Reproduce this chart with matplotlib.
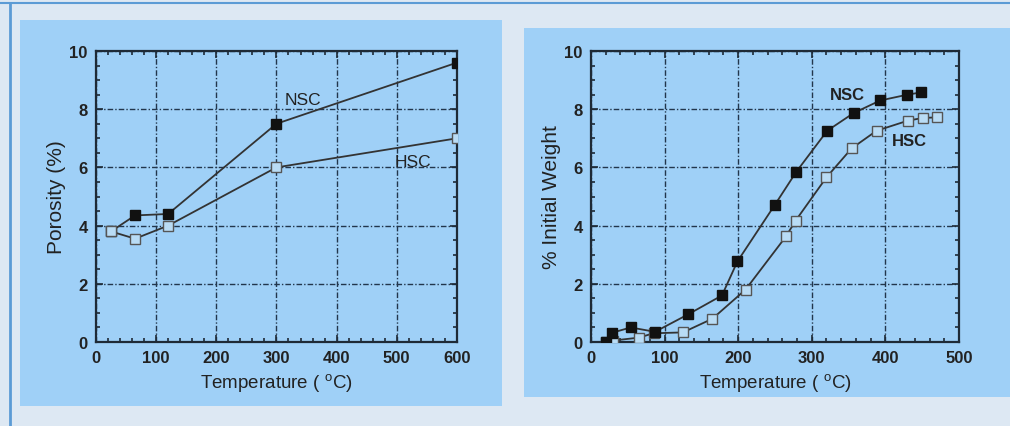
import matplotlib.pyplot as plt
from matplotlib.patches import Rectangle
from matplotlib.lines import Line2D
from matplotlib.ticker import MultipleLocator

# porosity vs temperature (left)
por_t = [25, 65, 120, 300, 600]
por_nsc = [3.8, 4.35, 4.4, 7.5, 9.6]
por_hsc = [3.8, 3.55, 4.0, 6.0, 7.0]

# weight loss vs temperature (right)
wt_t_nsc = [20, 29, 54, 87, 132, 178, 199, 250, 279, 321, 357, 393, 430, 449]
wt_nsc = [0.0, 0.32, 0.5, 0.35, 0.95, 1.6, 2.77, 4.72, 5.85, 7.26, 7.87, 8.3, 8.5, 8.58]
wt_t_hsc = [20, 30, 65, 85, 125, 165, 210, 265, 278, 320, 354, 388, 431, 451, 470]
wt_hsc = [0.0, 0.05, 0.15, 0.3, 0.33, 0.8, 1.8, 3.63, 4.17, 5.66, 6.65, 7.26, 7.61, 7.7, 7.72]

plt.rcParams['font.family'] = ['Liberation Sans', 'DejaVu Sans']

bg = '#dde8f3'
panel = '#9fd0f7'
ink = '#1e2a36'

fig = plt.figure(figsize=(10.1, 4.27), dpi=100, facecolor=bg)

# panels and outer frame (behind the axes)
fig.patches.append(Rectangle((0.0198, 0.0468), 0.477, 0.904, transform=fig.transFigure,
                             facecolor=panel, edgecolor='none', zorder=-2))
fig.patches.append(Rectangle((0.5188, 0.0679), 0.4812, 0.864, transform=fig.transFigure,
                             facecolor=panel, edgecolor='none', zorder=-2))
fig.lines.append(Line2D([0, 1], [0.991, 0.991], transform=fig.transFigure,
                        color='#5b9bd5', lw=1.5, zorder=-1))
fig.lines.append(Line2D([0.0099, 0.0099], [0, 0.991], transform=fig.transFigure,
                        color='#5b9bd5', lw=2, zorder=-1))


def style(ax, xmax, xmaj, xmin):
    ax.set_facecolor('none')
    ax.set_xlim(0, xmax)
    ax.set_ylim(0, 10)
    ax.xaxis.set_major_locator(MultipleLocator(xmaj))
    ax.xaxis.set_minor_locator(MultipleLocator(xmin))
    ax.yaxis.set_major_locator(MultipleLocator(2))
    ax.yaxis.set_minor_locator(MultipleLocator(0.5))
    ax.tick_params(which='both', direction='in', top=True, right=True,
                   colors=ink, labelsize=12, width=1.2)
    ax.tick_params(which='major', length=5, pad=6)
    ax.tick_params(which='minor', length=3)
    for lab in ax.get_xticklabels() + ax.get_yticklabels():
        lab.set_fontweight('bold')
        lab.set_color('#222')
    for s in ax.spines.values():
        s.set_color(ink)
        s.set_linewidth(1.6)
    ax.grid(True, which='major', color='#22364c', lw=1.0,
            linestyle=(0, (4, 1.5, 1, 1.5)))
    ax.set_xlabel('Temperature ( $^{\\mathregular{o}}$C)', fontsize=13.5, color='#222',
                  labelpad=4)


ax1 = fig.add_axes([0.0950, 0.1967, 0.3574, 0.6815])
style(ax1, 600, 100, 20)
ax1.plot(por_t, por_nsc, color='#333', lw=1.3, marker='s', ms=7,
         mfc='#111', mec='#111', zorder=3)
ax1.plot(por_t, por_hsc, color='#333', lw=1.3, marker='s', ms=7,
         mfc='#b9dcf5', mec='#555', zorder=3)
ax1.set_ylabel('Porosity (%)', fontsize=15, color='#222', labelpad=2)
ax1.text(344, 8.35, 'NSC', fontsize=12.5, color='#222', ha='center', va='center')
ax1.text(527, 6.19, 'HSC', fontsize=12.5, color='#222', ha='center', va='center')

ax2 = fig.add_axes([0.5851, 0.1967, 0.3644, 0.6815])
style(ax2, 500, 100, 20)
ax2.plot(wt_t_hsc, wt_hsc, color='#333', lw=1.3, marker='s', ms=6.5,
         mfc='#b9dcf5', mec='#555', zorder=3)
ax2.plot(wt_t_nsc, wt_nsc, color='#333', lw=1.3, marker='s', ms=6.5,
         mfc='#111', mec='#111', zorder=3)
ax2.set_ylabel('% Initial Weight', fontsize=15, color='#222', labelpad=2)
ax2.text(349, 8.52, 'NSC', fontsize=12, fontweight='bold', color='#222',
         ha='center', va='center')
ax2.text(433, 6.92, 'HSC', fontsize=12, fontweight='bold', color='#222',
         ha='center', va='center')

fig.savefig('out.png', dpi=100, facecolor=bg)
